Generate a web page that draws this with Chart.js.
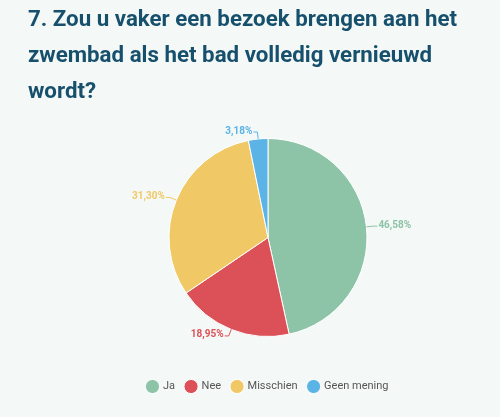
<!DOCTYPE html>
<html>
<head>
<meta charset="utf-8">
<script src="https://cdn.jsdelivr.net/npm/chart.js@4"></script>
<style>
  html, body { margin: 0; padding: 0; background: #f4f9f7; }
  #wrap { position: relative; width: 500px; height: 417px; }
  #title {
    position: absolute; left: 28px; top: 0px; width: 470px;
    font-family: Roboto, sans-serif; font-weight: bold; font-size: 22.3px;
    line-height: 36px; color: #17506d; margin: 0;
  }
  canvas { position: absolute; left: 0; top: 0; }
</style>
</head>
<body>
<div id="wrap">
  <canvas id="pie_chart" width="500" height="417"></canvas>
  <h2 id="title">7. Zou u vaker een bezoek brengen aan het zwembad als het bad volledig vernieuwd wordt?</h2>
</div>
<script>
// answers and share of respondents (%)
var pie_labels = ['Ja', 'Nee', 'Misschien', 'Geen mening'];
var pie_values = [46.58, 18.95, 31.30, 3.18];
var pie_colors = ['#8dc3a7', '#dc5157', '#f1c866', '#5bb4e5'];

function fmtPct(v){
	return v.toFixed(2).replace('.', ',') + '%';
}

// percentage labels outside the pie with a small leader line
const outsideLabels = {
	id: 'outsideLabels',
	afterDatasetsDraw(chart){
		const ctx = chart.ctx;
		const meta = chart.getDatasetMeta(0);
		ctx.save();
		ctx.font = 'bold 10px Roboto, sans-serif';
		ctx.lineWidth = 1;
		meta.data.forEach(function(arc, i){
			const p = arc.getProps(['x', 'y', 'startAngle', 'endAngle', 'outerRadius'], true);
			const mid = (p.startAngle + p.endAngle) / 2;
			const cos = Math.cos(mid), sin = Math.sin(mid);
			const x0 = p.x + cos * p.outerRadius, y0 = p.y + sin * p.outerRadius;
			const x1 = p.x + cos * (p.outerRadius + 7), y1 = p.y + sin * (p.outerRadius + 7);
			const right = cos >= 0;
			const x2 = x1 + (right ? 4 : -4);
			ctx.strokeStyle = pie_colors[i];
			ctx.fillStyle = pie_colors[i];
			ctx.beginPath();
			ctx.moveTo(x0, y0);
			ctx.lineTo(x1, y1);
			ctx.lineTo(x2, y1);
			ctx.stroke();
			ctx.textAlign = right ? 'left' : 'right';
			ctx.textBaseline = 'middle';
			ctx.fillText(fmtPct(pie_values[i]), x2 + (right ? 1 : -1), y1 - 1);
		});
		ctx.restore();
	}
};

const ctx = document.getElementById('pie_chart').getContext('2d');
const pie_chart = new Chart(ctx, {
	type: 'pie',
	data: {
		labels: pie_labels,
		datasets: [{
			data: pie_values,
			backgroundColor: pie_colors,
			borderColor: '#ffffff',
			borderWidth: 1
		}]
	},
	options: {
		responsive: false,
		animation: false,
		radius: 99,
		layout: {
			padding: { top: 105, left: 36, right: 0, bottom: 15 }
		},
		plugins: {
			legend: {
				position: 'bottom',
				labels: {
					usePointStyle: true,
					pointStyle: 'circle',
					boxWidth: 10,
					boxHeight: 10,
					padding: 11,
					color: '#555555',
					font: { family: 'Roboto, sans-serif', size: 11 }
				}
			},
			tooltip: { enabled: false }
		}
	},
	plugins: [outsideLabels]
});
</script>
</body>
</html>
